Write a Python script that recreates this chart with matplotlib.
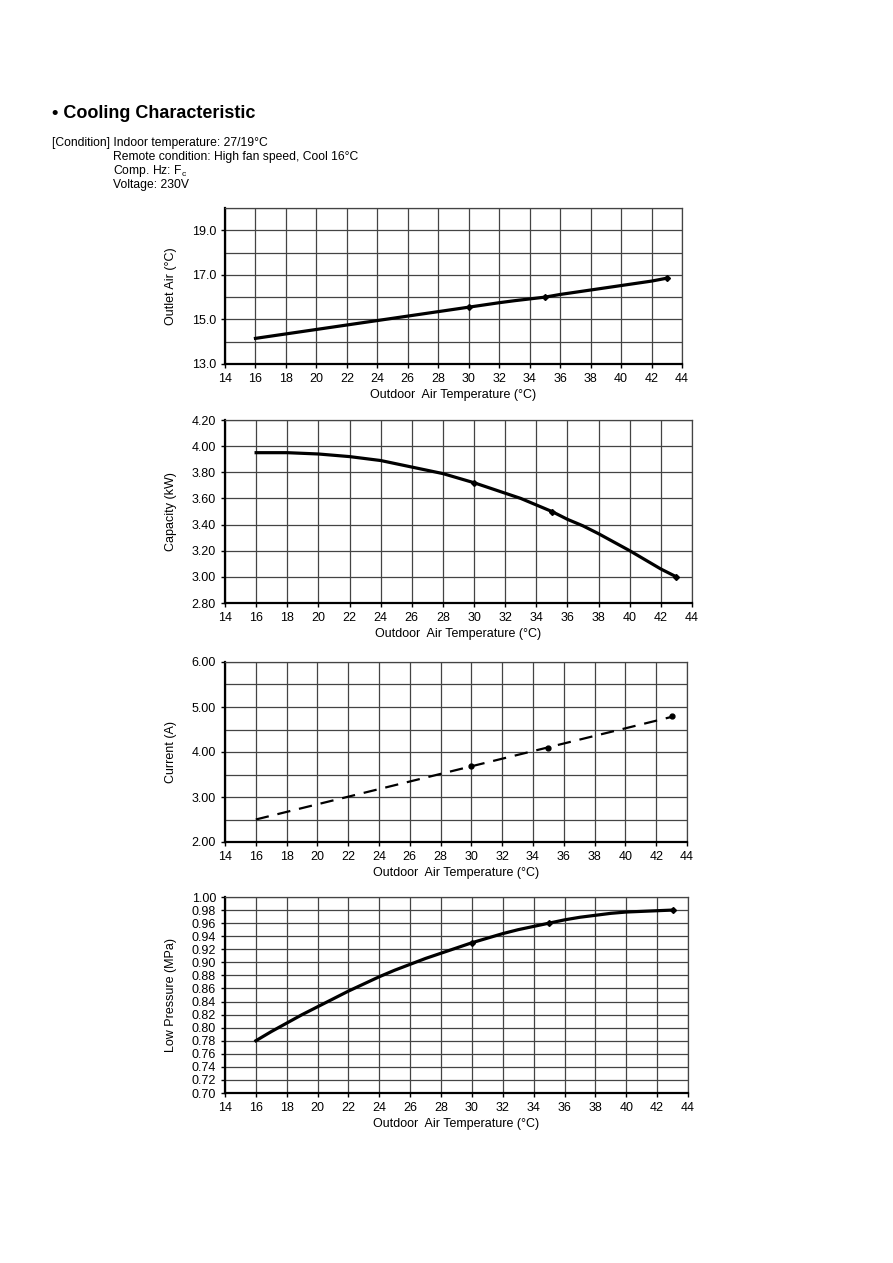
import matplotlib
matplotlib.use("Agg")
from matplotlib import pyplot as plt
from matplotlib.ticker import MultipleLocator, FormatStrFormatter

plt.rcParams['font.family'] = ['Liberation Sans', 'DejaVu Sans']
plt.rcParams['mathtext.default'] = 'regular'

# Outdoor air temperature readings (curve, every 1 degC)
temp_curve = list(range(16, 44))
temp_marks = [30, 35, 43]

outlet_air = [14.15, 14.25, 14.35, 14.45, 14.55, 14.65, 14.75, 14.85, 14.95, 15.05,
              15.15, 15.25, 15.35, 15.45, 15.55, 15.65, 15.75, 15.84, 15.92, 16.0,
              16.12, 16.22, 16.32, 16.42, 16.52, 16.62, 16.72, 16.85]
outlet_marks = [15.55, 16.0, 16.85]

capacity = [3.95, 3.95, 3.95, 3.945, 3.94, 3.93, 3.92, 3.905, 3.89, 3.865,
            3.84, 3.815, 3.79, 3.755, 3.72, 3.68, 3.64, 3.60, 3.55, 3.50,
            3.44, 3.39, 3.33, 3.265, 3.20, 3.13, 3.06, 3.00]
capacity_marks = [3.72, 3.50, 3.00]

# current is a straight dashed trend line plus measured points
current_trend_x = [16, 43]
current_trend_y = [2.50, 4.78]
current_marks = [3.70, 4.10, 4.80]

low_pressure = [0.780, 0.794, 0.807, 0.820, 0.832, 0.844, 0.856, 0.867, 0.878, 0.888,
                0.897, 0.906, 0.914, 0.922, 0.930, 0.937, 0.944, 0.950, 0.955, 0.960,
                0.965, 0.969, 0.972, 0.975, 0.977, 0.978, 0.979, 0.980]
pressure_marks = [0.930, 0.960, 0.980]

W, H = 893, 1263
fig = plt.figure(figsize=(W / 100, H / 100), dpi=100)

fig.text(52 / W, 1 - 114 / H, '\u2022 Cooling Characteristic', fontsize=13, fontweight='bold',
         va='center', ha='left')
fig.text(52 / W, 1 - 143 / H, '[Condition] Indoor temperature: 27/19\u00b0C', fontsize=8.7,
         va='center')
cond = ['Remote condition: High fan speed, Cool 16\u00b0C', 'Comp. Hz: F$_c$', 'Voltage: 230V']
for i, line in enumerate(cond):
    fig.text(113 / W, 1 - (157 + 14 * i) / H, line, fontsize=8.7, va='center')


def make_axes(left, right, top, bottom):
    return fig.add_axes([left / W, 1 - bottom / H, (right - left) / W, (bottom - top) / H])


def style(ax, ymin, ymax, ymajor, yminor, fmt, width_px):
    ax.set_xlim(14, 44)
    ax.set_ylim(ymin, ymax)
    ax.xaxis.set_major_locator(MultipleLocator(2))
    ax.yaxis.set_major_locator(MultipleLocator(ymajor))
    ax.yaxis.set_minor_locator(MultipleLocator(yminor))
    ax.yaxis.set_major_formatter(FormatStrFormatter(fmt))
    ax.grid(True, which='both', color='#444444', linewidth=0.9)
    ax.set_axisbelow(True)
    for s in ['top', 'right']:
        ax.spines[s].set_color('#444444')
        ax.spines[s].set_linewidth(0.9)
    for s in ['left', 'bottom']:
        ax.spines[s].set_color('black')
        ax.spines[s].set_linewidth(1.6)
    ax.tick_params(which='major', length=3, width=1, pad=3.5, labelsize=9)
    ax.tick_params(which='minor', length=0)
    ax.set_xlabel('Outdoor  Air Temperature (\u00b0C)', fontsize=9, labelpad=3)
    ax.yaxis.set_label_coords(-48 / width_px, 0.5)


ax1 = make_axes(225, 682, 208, 364)
ax1.plot(temp_curve, outlet_air, color='black', linewidth=2.3)
ax1.plot(temp_marks, outlet_marks, 'D', color='black', markersize=3)
style(ax1, 13, 20, 2, 1, '%.1f', 682 - 225)
ax1.set_yticks([13, 15, 17, 19])
ax1.set_ylabel('Outlet Air (\u00b0C)', fontsize=9)

ax2 = make_axes(225, 692, 420, 603)
ax2.plot(temp_curve, capacity, color='black', linewidth=2.3)
ax2.plot(temp_marks, capacity_marks, 'D', color='black', markersize=3)
style(ax2, 2.8, 4.2, 0.2, 0.2, '%.2f', 692 - 225)
ax2.set_ylabel('Capacity (kW)', fontsize=9)

ax3 = make_axes(225, 687, 662, 842)
ax3.plot(current_trend_x, current_trend_y, color='black', linewidth=1.6, linestyle=(0, (6, 4)))
ax3.plot(temp_marks, current_marks, 'o', color='black', markersize=3.5)
style(ax3, 2, 6, 1, 0.5, '%.2f', 687 - 225)
ax3.set_ylabel('Current (A)', fontsize=9)

ax4 = make_axes(225, 688, 897, 1093)
ax4.plot(temp_curve, low_pressure, color='black', linewidth=2.3)
ax4.plot(temp_marks, pressure_marks, 'D', color='black', markersize=3)
style(ax4, 0.70, 1.00, 0.02, 0.02, '%.2f', 688 - 225)
ax4.set_ylabel('Low Pressure (MPa)', fontsize=9)

fig.savefig('out.png', dpi=100)
